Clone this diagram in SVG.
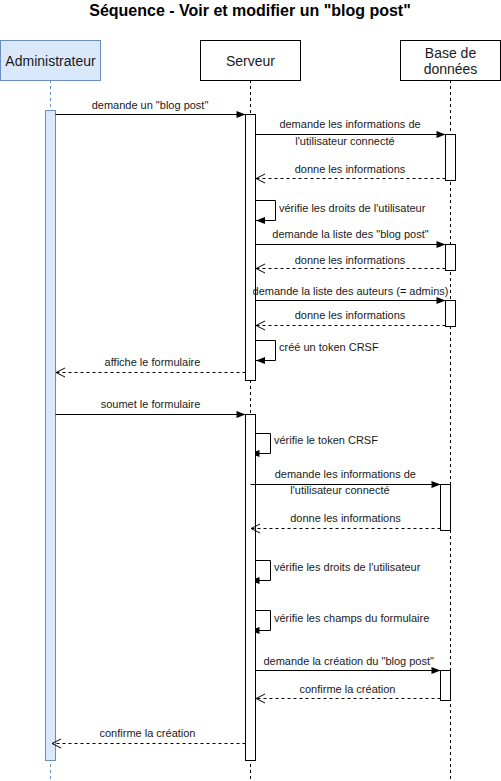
<svg xmlns="http://www.w3.org/2000/svg" width="501" height="781" viewBox="0 0 501 781">
<style>
text{font-family:"Liberation Sans",Arial,Helvetica,sans-serif;fill:#1a1a1a}
.title{font-size:16px;font-weight:bold;text-anchor:middle;fill:#000}
.hdr{font-size:14px;text-anchor:middle}
.lbl{font-size:11px;text-anchor:middle}
.lbs{font-size:11px;text-anchor:start}
.head{fill:#fff;stroke:#000;stroke-width:1}
.headb{fill:#dae8fc;stroke:#6c8ebf;stroke-width:1}
.life{stroke:#000;stroke-width:1;stroke-dasharray:3 3;fill:none}
.lifeb{stroke:#6c8ebf;stroke-width:1;stroke-dasharray:3 3;fill:none}
.act{fill:#fff;stroke:#000;stroke-width:1}
.actb{fill:#dae8fc;stroke:#6c8ebf;stroke-width:1}
.msg{stroke:#000;stroke-width:1;fill:none;marker-end:url(#filled)}
.self{stroke:#000;stroke-width:1;fill:none;marker-end:url(#filled)}
.selfs{stroke:#000;stroke-width:1;fill:none;marker-end:url(#small)}
.ret{stroke:#000;stroke-width:1;fill:none;stroke-dasharray:3 3;marker-end:url(#open)}
</style>
<defs>
<marker id="filled" markerUnits="userSpaceOnUse" markerWidth="10" markerHeight="8" refX="9" refY="3.5" orient="auto" overflow="visible"><path d="M0,0 L9,3.5 L0,7 z" fill="#000"/></marker>
<marker id="small" markerUnits="userSpaceOnUse" markerWidth="5" markerHeight="8" refX="4" refY="3.5" orient="auto" overflow="visible"><path d="M0,0 L4,1.6 L4,5.4 L0,7 z" fill="#000"/></marker>
<marker id="open" markerUnits="userSpaceOnUse" markerWidth="10" markerHeight="10" refX="9" refY="4.5" orient="auto" overflow="visible"><path d="M0,0 L9,4.5 L0,9" fill="none" stroke="#000" stroke-width="1"/></marker>
</defs>
<rect width="501" height="781" fill="#fff"/>
<text class="title" x="250" y="16">Séquence - Voir et modifier un "blog post"</text>

<g id="administrateur">
<line class="lifeb" x1="50.5" y1="80" x2="50.5" y2="781"/>
<rect class="headb" x="0.5" y="40.5" width="100" height="40"/>
<text class="hdr" x="50.5" y="66">Administrateur</text>
<rect class="actb" x="45.5" y="110.5" width="10" height="650"/>
</g>

<g id="serveur">
<line class="life" x1="250.5" y1="80" x2="250.5" y2="781"/>
<rect class="head" x="200.5" y="40.5" width="100" height="40"/>
<text class="hdr" x="250.5" y="66">Serveur</text>
<rect class="act" x="245.5" y="114.5" width="10" height="266"/>
<rect class="act" x="245.5" y="414.5" width="10" height="346"/>
</g>

<g id="base-de-donnees">
<line class="life" x1="450.5" y1="80" x2="450.5" y2="781"/>
<rect class="head" x="400.5" y="40.5" width="100" height="40"/>
<text class="hdr" x="450.5" y="58">Base de</text>
<text class="hdr" x="450.5" y="74">données</text>
<rect class="act" x="445.5" y="134.5" width="10" height="46"/>
<rect class="act" x="445.5" y="244.5" width="10" height="26"/>
<rect class="act" x="445.5" y="300.5" width="10" height="26"/>
<rect class="act" x="440.5" y="484.5" width="10" height="46"/>
<rect class="act" x="440.5" y="670.5" width="10" height="30"/>
</g>

<g id="connectors">
<path class="msg" d="M55.5,114.5 H245.5"/>
<path class="msg" d="M255.5,134.5 H445.5"/>
<path class="ret" d="M445.5,178.5 H256"/>
<path class="self" d="M255.5,200.5 H275.5 V220.5 H256"/>
<path class="msg" d="M255.5,244.5 H445.5"/>
<path class="ret" d="M445.5,268.5 H256"/>
<path class="msg" d="M255.5,300.5 H445.5"/>
<path class="ret" d="M445.5,325.5 H256"/>
<path class="self" d="M255.5,340.5 H275.5 V360.5 H256"/>
<path class="ret" d="M245.5,372.5 H56"/>
<path class="msg" d="M55.5,414.5 H245.5"/>
<path class="selfs" d="M255.5,433.5 H270.5 V453.5 H255.5"/>
<path class="msg" d="M250.5,484.5 H440.5"/>
<path class="ret" d="M440.5,528.5 H251"/>
<path class="selfs" d="M255.5,560.5 H270.5 V580.5 H255.5"/>
<path class="selfs" d="M255.5,610.5 H270.5 V630.5 H255.5"/>
<path class="msg" d="M255.5,670.5 H440.5"/>
<path class="ret" d="M440.5,698.5 H256"/>
<path class="ret" d="M245.5,743.5 H52"/>
</g>

<g id="labels">
<text class="lbl" x="150" y="109">demande un "blog post"</text>
<text class="lbl" x="350" y="128">demande les informations de</text>
<text class="lbl" x="345" y="145">l'utilisateur connecté</text>
<text class="lbl" x="350" y="172.5">donne les informations</text>
<text class="lbs" x="279" y="211.5">vérifie les droits de l'utilisateur</text>
<text class="lbl" x="350.5" y="238">demande la liste des "blog post"</text>
<text class="lbl" x="350" y="263.5">donne les informations</text>
<text class="lbl" x="350.5" y="294.5">demande la liste des auteurs (= admins)</text>
<text class="lbl" x="350" y="319">donne les informations</text>
<text class="lbs" x="279" y="351">créé un token CRSF</text>
<text class="lbl" x="152.5" y="366">affiche le formulaire</text>
<text class="lbl" x="150.5" y="408">soumet le formulaire</text>
<text class="lbs" x="274" y="444">vérifie le token CRSF</text>
<text class="lbl" x="345.3" y="478">demande les informations de</text>
<text class="lbl" x="340" y="494">l'utilisateur connecté</text>
<text class="lbl" x="345.5" y="522">donne les informations</text>
<text class="lbs" x="274" y="571">vérifie les droits de l'utilisateur</text>
<text class="lbs" x="274" y="621.5">vérifie les champs du formulaire</text>
<text class="lbl" x="348.7" y="664.5">demande la création du "blog post"</text>
<text class="lbl" x="347.5" y="693">confirme la création</text>
<text class="lbl" x="147.5" y="737">confirme la création</text>
</g>
</svg>
